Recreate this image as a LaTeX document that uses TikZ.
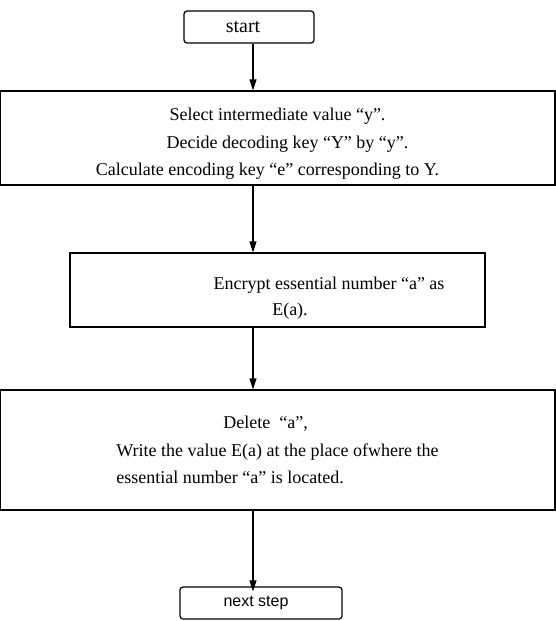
\documentclass[tikz,border=0pt]{standalone}
\usepackage{fontspec}
\setmainfont{Liberation Serif}
\newfontfamily\sansfont{Liberation Sans}
\usetikzlibrary{positioning,arrows.meta}

\begin{document}
\begin{tikzpicture}[x=1pt,y=-1pt,>={Triangle[length=11pt,width=7pt]},
   proc/.style={draw,line width=1.2pt,rectangle,align=center,inner sep=0pt,
                font=\fontsize{18}{27.5}\selectfont},
   term/.style={draw,line width=1.2pt,rounded corners=3pt,inner sep=0pt,
                minimum height=32pt}]
   \useasboundingbox (0,0) rectangle (555,621);
   \coordinate (spine) at (253,0);
   \node[term,minimum width=130pt,font=\fontsize{20}{20}\selectfont] (start) at (249,27)
      {start\hspace*{12pt}};
   \node[proc,minimum width=555pt,minimum height=94pt] (select) at (277.5,138)
      {\rule{0pt}{24pt}Select intermediate value “y”.\\
       \hspace*{20pt}Decide decoding key “Y” by “y”.\\
       Calculate encoding key “e” corresponding to Y.\hspace*{20pt}};
   \node[proc,minimum width=415pt,minimum height=74pt,
         font=\fontsize{18}{26}\selectfont] (encrypt) at (277.5,290)
      {\rule{0pt}{28pt}\hspace*{103pt}Encrypt essential number “a” as\\ \hspace*{25pt}E(a).};
   \node[proc,minimum width=555pt,minimum height=120pt,align=left] (delete) at (277.5,450)
      {\hspace*{107pt}Delete \ “a”,\\
       Write the value E(a) at the place ofwhere the\\
       essential number “a” is located.};
   \node[term,minimum width=162pt,font=\sansfont\fontsize{16}{20}\selectfont] (next) at (261,603)
      {next step\hspace*{10pt}};
   \path[->,line width=1.2pt]
    (spine |- start.south) edge (spine |- select.north)
    (spine |- select.south) edge (spine |- encrypt.north)
    (spine |- encrypt.south) edge (spine |- delete.north)
    (spine |- delete.south) edge ([yshift=-5pt]spine |- next.north);
\end{tikzpicture}
\end{document}
